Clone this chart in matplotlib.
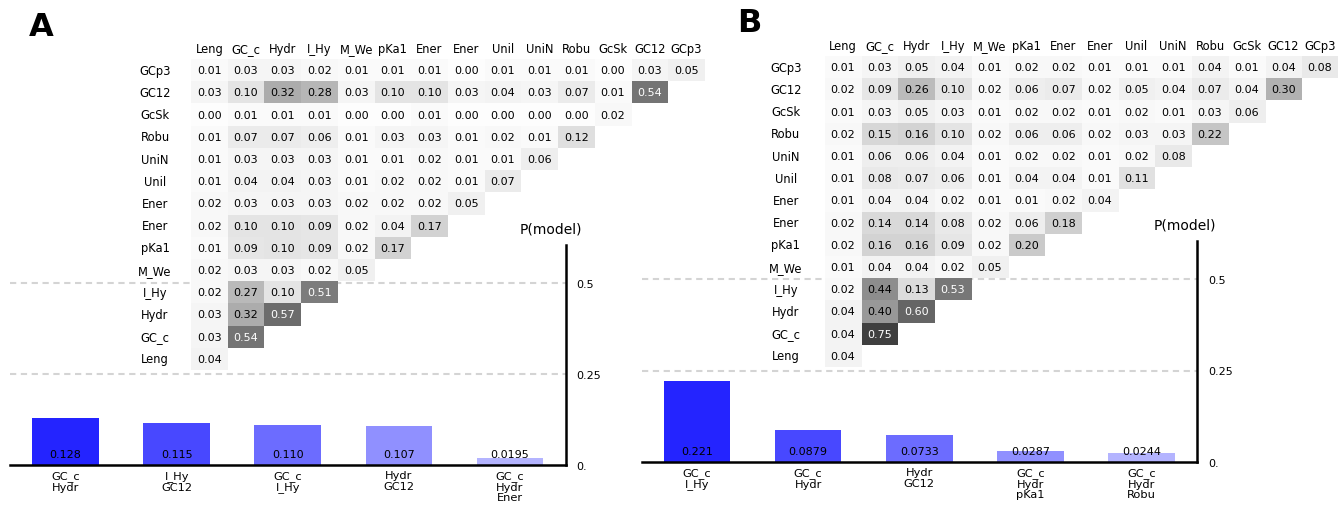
import numpy as np
import matplotlib
matplotlib.use("Agg")
import matplotlib.pyplot as plt

# ---------------- data ----------------
features = ["Leng", "GC_c", "Hydr", "I_Hy", "M_We", "pKa1", "Ener", "Ener",
            "Unil", "UniN", "Robu", "GcSk", "GC12", "GCp3"]

# rows listed from bottom (Leng) to top (GCp3); row i holds columns 0..i
heat_a = [
    [0.04],
    [0.03, 0.54],
    [0.03, 0.32, 0.57],
    [0.02, 0.27, 0.10, 0.51],
    [0.02, 0.03, 0.03, 0.02, 0.05],
    [0.01, 0.09, 0.10, 0.09, 0.02, 0.17],
    [0.02, 0.10, 0.10, 0.09, 0.02, 0.04, 0.17],
    [0.02, 0.03, 0.03, 0.03, 0.02, 0.02, 0.02, 0.05],
    [0.01, 0.04, 0.04, 0.03, 0.01, 0.02, 0.02, 0.01, 0.07],
    [0.01, 0.03, 0.03, 0.03, 0.01, 0.01, 0.02, 0.01, 0.01, 0.06],
    [0.01, 0.07, 0.07, 0.06, 0.01, 0.03, 0.03, 0.01, 0.02, 0.01, 0.12],
    [0.00, 0.01, 0.01, 0.01, 0.00, 0.00, 0.01, 0.00, 0.00, 0.00, 0.00, 0.02],
    [0.03, 0.10, 0.32, 0.28, 0.03, 0.10, 0.10, 0.03, 0.04, 0.03, 0.07, 0.01, 0.54],
    [0.01, 0.03, 0.03, 0.02, 0.01, 0.01, 0.01, 0.00, 0.01, 0.01, 0.01, 0.00, 0.03, 0.05],
]

heat_b = [
    [0.04],
    [0.04, 0.75],
    [0.04, 0.40, 0.60],
    [0.02, 0.44, 0.13, 0.53],
    [0.01, 0.04, 0.04, 0.02, 0.05],
    [0.02, 0.16, 0.16, 0.09, 0.02, 0.20],
    [0.02, 0.14, 0.14, 0.08, 0.02, 0.06, 0.18],
    [0.01, 0.04, 0.04, 0.02, 0.01, 0.01, 0.02, 0.04],
    [0.01, 0.08, 0.07, 0.06, 0.01, 0.04, 0.04, 0.01, 0.11],
    [0.01, 0.06, 0.06, 0.04, 0.01, 0.02, 0.02, 0.01, 0.02, 0.08],
    [0.02, 0.15, 0.16, 0.10, 0.02, 0.06, 0.06, 0.02, 0.03, 0.03, 0.22],
    [0.01, 0.03, 0.05, 0.03, 0.01, 0.02, 0.02, 0.01, 0.02, 0.01, 0.03, 0.06],
    [0.02, 0.09, 0.26, 0.10, 0.02, 0.06, 0.07, 0.02, 0.05, 0.04, 0.07, 0.04, 0.30],
    [0.01, 0.03, 0.05, 0.04, 0.01, 0.02, 0.02, 0.01, 0.01, 0.01, 0.04, 0.01, 0.04, 0.08],
]

models_a = ["GC_c\nHydr", "I_Hy\nGC12", "GC_c\nI_Hy", "Hydr\nGC12", "GC_c\nHydr\nEner"]
probs_a = [0.128, 0.115, 0.110, 0.107, 0.0195]
labels_a = ["0.128", "0.115", "0.110", "0.107", "0.0195"]

models_b = ["GC_c\nI_Hy", "GC_c\nHydr", "Hydr\nGC12", "GC_c\nHydr\npKa1", "GC_c\nHydr\nRobu"]
probs_b = [0.221, 0.0879, 0.0733, 0.0287, 0.0244]
labels_b = ["0.221", "0.0879", "0.0733", "0.0287", "0.0244"]

yticks = [0.0, 0.25, 0.5]
ytick_labels = ["0.", "0.25", "0.5"]

bar_colors = ["#2424ff", "#4848ff", "#6c6cff", "#9090ff", "#b4b4ff"]

# ---------------- figure ----------------
W, H = 1338, 510
fig = plt.figure(figsize=(W / 100, H / 100), dpi=100)
plt.rcParams["font.family"] = ["DejaVu Sans"]


def px_axes(x0, y_bottom, w, h):
    """axes from pixel coords (x0 left, y_bottom measured from top)"""
    return fig.add_axes([x0 / W, (H - y_bottom) / H, w / W, h / H])


def draw_bars(ax, models, probs, labels):
    x = np.arange(len(models))
    ax.bar(x, probs, width=0.6, color=bar_colors, zorder=2)
    for xi, lab in zip(x, labels):
        ax.text(xi, 0.03, lab, ha="center", va="center", fontsize=8, color="black", zorder=3)
    for yv in (0.25, 0.5):
        ax.axhline(yv, color="#d4d4d4", lw=1.5, ls=(0, (3, 2.2)), zorder=1)
    ax.set_xlim(-0.5, 4.5)
    ax.set_ylim(0, 0.605)
    ax.set_xticks(x)
    ax.set_xticklabels(models, fontsize=8.2, linespacing=1.1)
    ax.yaxis.tick_right()
    ax.set_yticks(yticks)
    ax.set_yticklabels(ytick_labels, fontsize=8)
    ax.tick_params(axis="both", length=0)
    ax.tick_params(axis="x", pad=3.5)
    ax.tick_params(axis="y", pad=8)
    for s in ("left", "top"):
        ax.spines[s].set_visible(False)
    for s in ("right", "bottom"):
        ax.spines[s].set_linewidth(1.8)
        ax.spines[s].set_color("black")
    ax.patch.set_alpha(0)


def draw_heat(ax, rows, label_x):
    n = len(features)
    mat = np.full((n, n), np.nan)
    for r, vals in enumerate(rows):
        for c, v in enumerate(vals):
            mat[r, c] = v
    ax.imshow(np.ma.masked_invalid(mat), cmap="gray_r", vmin=-0.01, vmax=1,
              origin="lower", extent=(-0.5, n - 0.5, -0.5, n - 0.5),
              aspect="auto", interpolation="nearest")
    for r, vals in enumerate(rows):
        for c, v in enumerate(vals):
            ax.text(c, r, f"{v:.2f}", ha="center", va="center", fontsize=8,
                    color="white" if v >= 0.5 else "black")
    for i, name in enumerate(features):
        ax.text(label_x, i, name, ha="center", va="center", fontsize=8.3, clip_on=False)
        ax.text(i, n - 0.5 + 0.47, name, ha="center", va="center", fontsize=8.3, clip_on=False)
    ax.set_xlim(-0.5, n - 0.5)
    ax.set_ylim(-0.5, n - 0.5)
    ax.axis("off")


# Panel A
bar_h = 0.605 * 364
ax_ba = px_axes(10, 466, 555.5, bar_h)
draw_bars(ax_ba, models_a, probs_a, labels_a)
ax_ha = px_axes(191, 371, 14 * 36.7, 14 * 22.2)
draw_heat(ax_ha, heat_a, -1.48)

# Panel B
bar_hb = 0.605 * 366
ax_bb = px_axes(641.5, 463, 555.5, bar_hb)
draw_bars(ax_bb, models_b, probs_b, labels_b)
ax_hb = px_axes(824.6, 368, 14 * 36.7, 14 * 22.2)
draw_heat(ax_hb, heat_b, -1.56)

# P(model) titles
fig.text(551 / W, 1 - 230 / H, "P(model)", ha="center", va="center", fontsize=10)
fig.text(1185 / W, 1 - 226 / H, "P(model)", ha="center", va="center", fontsize=10)

# panel letters
fig.text(41 / W, 1 - 28 / H, "A", ha="center", va="center", fontsize=23, fontweight="bold")
fig.text(749 / W, 1 - 24 / H, "B", ha="center", va="center", fontsize=23, fontweight="bold")

fig.savefig("out.png", dpi=100)
